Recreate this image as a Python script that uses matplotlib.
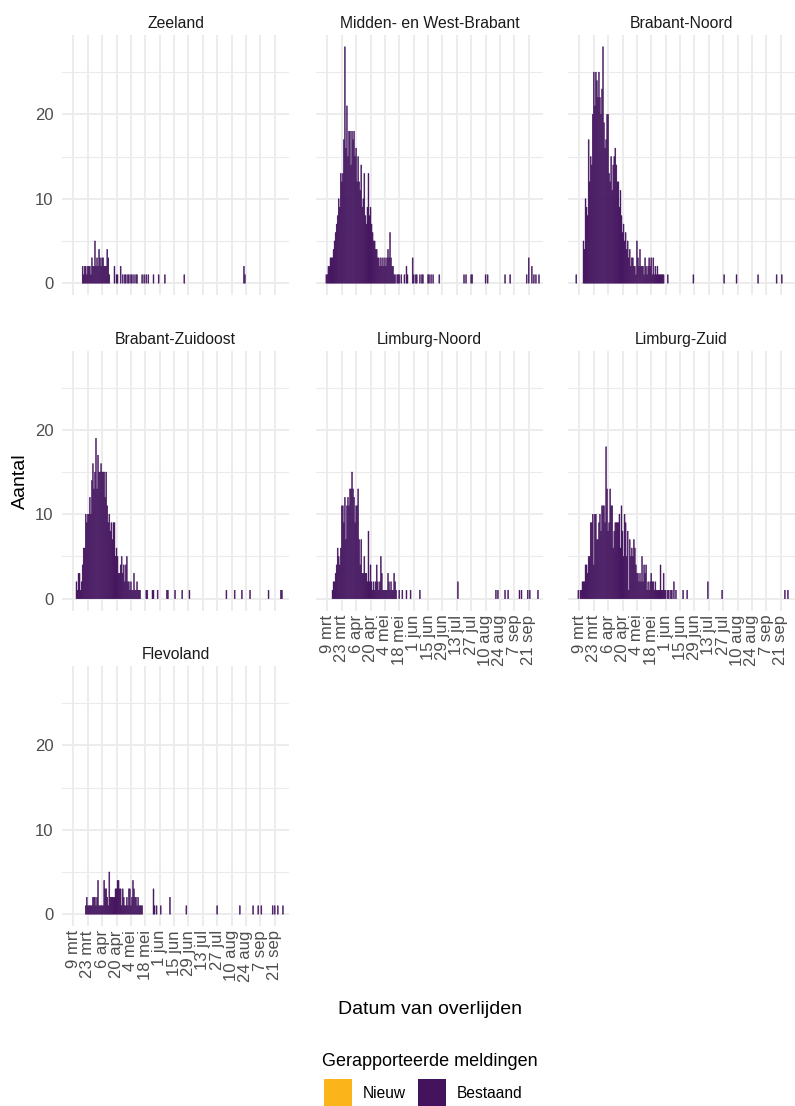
import numpy as np
import pandas as pd
import matplotlib
matplotlib.use('Agg')
import matplotlib.pyplot as plt
from matplotlib.patches import Rectangle

plt.rcParams['font.family'] = ['Liberation Sans', 'DejaVu Sans']

# --- data: dagelijkse aantallen per regio (dense blok + losse latere meldingen) ---
REGIONS = ['Zeeland', 'Midden- en West-Brabant', 'Brabant-Noord',
           'Brabant-Zuidoost', 'Limburg-Noord', 'Limburg-Zuid', 'Flevoland']

ZEELAND_START = '2020-03-18'
ZEELAND_DENSE = [2, 1, 2, 2, 1, 2, 2, 2, 1, 3, 2, 2, 5, 2, 3, 2, 4, 3, 2, 3,
                 3, 2, 2, 2, 4, 3, 1]
ZEELAND_LATE = [('04-18', 2), ('04-20', 1), ('04-21', 1), ('04-24', 2), ('04-26', 1),
                ('04-28', 1), ('04-29', 1), ('05-01', 1), ('05-02', 1), ('05-04', 1),
                ('05-05', 1), ('05-07', 1), ('05-09', 1), ('05-10', 1), ('05-15', 1),
                ('05-17', 1), ('05-19', 1), ('05-21', 1), ('05-26', 1), ('05-31', 1),
                ('06-06', 1), ('06-25', 1), ('08-22', 2), ('08-23', 1)]

MWB_START = '2020-03-08'
MWB_DENSE = [1, 1, 2, 2, 3, 3, 3, 4, 5, 6, 7, 8, 10, 9, 13, 12, 13, 17, 28, 16,
             21, 15, 18, 18, 14, 18, 17, 18, 15, 16, 12, 15, 12, 11, 14, 9, 10, 13, 8, 7,
             9, 13, 8, 9, 7, 6, 5, 5, 4, 4, 3, 3, 2, 3, 2, 3, 2, 3, 2, 3,
             4, 3, 6, 3, 2, 2, 1, 1]
MWB_LATE = [('05-16', 1), ('05-17', 1), ('05-18', 1), ('05-20', 1), ('05-23', 1),
            ('05-25', 2), ('05-26', 1), ('05-31', 3), ('06-01', 1), ('06-03', 1),
            ('06-04', 1), ('06-07', 1), ('06-09', 1), ('06-10', 1), ('06-15', 1),
            ('06-16', 1), ('06-18', 1), ('06-20', 1), ('06-26', 1), ('07-20', 1),
            ('07-22', 1), ('07-27', 1), ('07-28', 1), ('08-10', 1), ('08-12', 1),
            ('08-29', 1), ('09-03', 1), ('09-19', 1), ('09-21', 3), ('09-24', 2),
            ('09-26', 1), ('09-28', 1), ('10-01', 1)]

BN_START = '2020-03-13'
BN_DENSE = [5, 4, 10, 9, 8, 17, 12, 15, 14, 20, 25, 21, 25, 24, 22, 25, 22, 20, 23, 28,
            19, 16, 17, 20, 20, 13, 12, 15, 11, 14, 15, 16, 14, 12, 12, 9, 11, 8, 6, 7,
            5, 6, 4, 5, 3, 4, 2, 3, 3, 2, 2, 1, 5, 3, 2, 4, 2, 2, 2, 1,
            3, 2, 1, 2, 3, 2, 3, 1, 3, 1, 2, 1, 2, 1, 1, 1, 1, 1, 1]
BN_LATE = [('03-06', 1), ('06-03', 1), ('06-28', 1), ('07-28', 1), ('08-09', 1),
           ('08-30', 1), ('09-17', 1), ('09-22', 1)]

BZO_START = '2020-03-12'
BZO_DENSE = [2, 1, 3, 3, 1, 2, 4, 6, 6, 10, 9, 10, 10, 12, 10, 14, 16, 13, 15, 19,
             13, 17, 15, 15, 16, 15, 15, 15, 12, 15, 11, 9, 10, 8, 9, 7, 9, 9, 5, 6,
             5, 3, 3, 4, 5, 3, 4, 2, 4, 5, 2, 2, 1, 2, 1, 1, 3, 1, 1, 2,
             1, 1, 1]
BZO_LATE = [('05-19', 1), ('05-20', 1), ('05-25', 1), ('05-26', 1), ('05-30', 1),
            ('06-08', 1), ('06-09', 1), ('06-16', 1), ('06-23', 1), ('06-30', 1),
            ('08-05', 1), ('08-13', 1), ('08-20', 1), ('08-28', 1), ('09-15', 1),
            ('09-27', 1), ('09-28', 1)]

LN_START = '2020-03-14'
LN_DENSE = [1, 2, 2, 3, 4, 6, 5, 4, 6, 11, 11, 9, 12, 7, 11, 12, 11, 13, 13, 15,
            13, 12, 9, 11, 11, 13, 7, 4, 7, 3, 3, 5, 3, 3, 2, 8, 2, 4, 2, 1,
            2, 1, 2, 4, 2, 1, 2, 5, 3, 1, 1, 1, 1, 1, 3, 2, 1, 2, 1, 1,
            3, 2, 1]
LN_LATE = [('05-18', 1), ('05-21', 1), ('05-25', 1), ('05-29', 1), ('06-07', 1),
           ('07-14', 2), ('08-20', 1), ('08-22', 1), ('08-29', 1), ('09-01', 1),
           ('09-12', 1), ('09-14', 1), ('09-20', 1), ('09-22', 1), ('09-30', 1)]

LZ_START = '2020-03-08'
LZ_DENSE = [1, 0, 1, 1, 2, 2, 2, 4, 4, 3, 5, 5, 9, 9, 10, 4, 10, 10, 7, 7,
            9, 10, 8, 11, 11, 11, 9, 18, 13, 8, 9, 13, 11, 11, 6, 8, 9, 9, 9, 9,
            10, 6, 11, 8, 5, 10, 9, 5, 8, 1, 7, 5, 6, 5, 7, 6, 4, 3, 3, 2,
            3, 2, 5, 2, 4, 3, 4, 1, 2, 1, 2, 3, 2, 2, 1, 2, 1, 1, 1, 1,
            4, 1, 1, 3, 1, 1, 0, 1, 1, 0, 1, 1, 0, 2, 0, 1]
LZ_LATE = [('06-18', 1), ('06-22', 1), ('07-12', 2), ('07-26', 1), ('09-25', 1),
           ('09-28', 1)]

FLEVO_START = '2020-03-21'
FLEVO_DENSE = [1, 2, 1, 1, 1, 1, 1, 2, 2, 2, 1, 2, 4, 1, 1, 1, 1, 1, 4, 3,
               3, 2, 1, 5, 2, 2, 2, 2, 2, 3, 3, 4, 4, 3, 3, 1, 3, 2, 1, 1,
               2, 1, 3, 3, 1, 2, 4, 3, 2, 2, 1, 2, 1, 1, 1, 1]
FLEVO_LATE = [('05-26', 3), ('05-27', 1), ('05-29', 1), ('06-02', 1), ('06-11', 2),
              ('06-27', 1), ('07-27', 1), ('08-18', 1), ('08-31', 1), ('09-05', 1),
              ('09-08', 1), ('09-19', 1), ('09-21', 1), ('09-24', 1), ('09-29', 1)]

SERIES = [(ZEELAND_START, ZEELAND_DENSE, ZEELAND_LATE),
          (MWB_START, MWB_DENSE, MWB_LATE),
          (BN_START, BN_DENSE, BN_LATE),
          (BZO_START, BZO_DENSE, BZO_LATE),
          (LN_START, LN_DENSE, LN_LATE),
          (LZ_START, LZ_DENSE, LZ_LATE),
          (FLEVO_START, FLEVO_DENSE, FLEVO_LATE)]

TICK_DATES = pd.date_range('2020-03-09', '2020-09-21', freq='14D')
TICK_LABELS = ['9 mrt', '23 mrt', '6 apr', '20 apr', '4 mei', '18 mei', '1 jun',
               '15 jun', '29 jun', '13 jul', '27 jul', '10 aug', '24 aug', '7 sep',
               '21 sep']
LEGEND_LABELS = ['Nieuw', 'Bestaand']

COL_NIEUW = '#FBB41A'
COL_BESTAAND = '#43135E'
GRID = '#EBEBEB'
TXT = '#4D4D4D'


def to_series(start, dense, late):
    dates = list(pd.date_range(start, periods=len(dense), freq='D'))
    counts = list(dense)
    for md, n in late:
        dates.append(pd.Timestamp('2020-' + md))
        counts.append(n)
    s = pd.Series(counts, index=pd.DatetimeIndex(dates)).sort_index()
    return s[s > 0]


# --- layout in pixels (795 x 1106) ---
W, H = 795, 1106
fig = plt.figure(figsize=(W / 100, H / 100), dpi=100)
fig.patch.set_facecolor('white')

COL_LEFT = [62, 316, 568]
ROW_TOP = [35, 350.5, 666]
PW, PH = 227, 260
XLIM = (pd.Timestamp('2020-02-26 22:00'), pd.Timestamp('2020-10-04 22:00'))
BOTTOM_PANELS = {4, 5, 6}

for i, (name, (start, dense, late)) in enumerate(zip(REGIONS, SERIES)):
    r, c = divmod(i, 3)
    ax = fig.add_axes([COL_LEFT[c] / W, 1 - (ROW_TOP[r] + PH) / H, PW / W, PH / H])
    s = to_series(start, dense, late)
    bars = ax.bar(s.index, s.values, width=0.9, color=COL_BESTAAND,
                  edgecolor=COL_BESTAAND, linewidth=0.35, zorder=3)
    for b in bars:
        b.set_snap(False)

    ax.set_xlim(XLIM)
    ax.set_ylim(-1.4, 29.4)
    ax.set_xticks(TICK_DATES)
    ax.set_yticks([0, 10, 20])
    ax.set_yticks([5, 15, 25], minor=True)
    ax.grid(which='major', color=GRID, lw=1.3, zorder=0)
    ax.grid(which='minor', axis='y', color=GRID, lw=0.8, zorder=0)
    for sp in ax.spines.values():
        sp.set_visible(False)
    ax.tick_params(which='both', length=0, colors=TXT, labelsize=12)
    ax.tick_params(axis='y', pad=6)
    ax.tick_params(axis='x', pad=3)

    if c == 0:
        ax.set_yticklabels(['0', '10', '20'])
    else:
        ax.set_yticklabels([])
    if i in BOTTOM_PANELS:
        ax.set_xticklabels(TICK_LABELS, rotation=90, ha='center', va='top')
    else:
        ax.set_xticklabels([])

    ax.set_title(name, fontsize=11.3, color='#1A1A1A', pad=5)

# assen-titels
fig.text(20 / W, 1 - 481 / H, 'Aantal', rotation=90, ha='center', va='center',
         fontsize=14, color='black')
fig.text(430 / W, 1 - 1009 / H, 'Datum van overlijden', ha='center', va='center',
         fontsize=14, color='black')

# legenda
fig.text(430 / W, 1 - 1061 / H, 'Gerapporteerde meldingen', ha='center', va='center',
         fontsize=13, color='black')
KEY_X = [324, 418]
TEXT_X = [363, 457]
for kx, tx, col, lab in zip(KEY_X, TEXT_X, [COL_NIEUW, COL_BESTAAND], LEGEND_LABELS):
    fig.patches.append(Rectangle((kx / W, 1 - 1107 / H), 28 / W, 28 / H,
                                 transform=fig.transFigure, facecolor=col,
                                 edgecolor='none'))
    fig.text(tx / W, 1 - 1093 / H, lab, ha='left', va='center', fontsize=11.2,
             color='black')

fig.savefig('out.png', dpi=100, facecolor='white')
